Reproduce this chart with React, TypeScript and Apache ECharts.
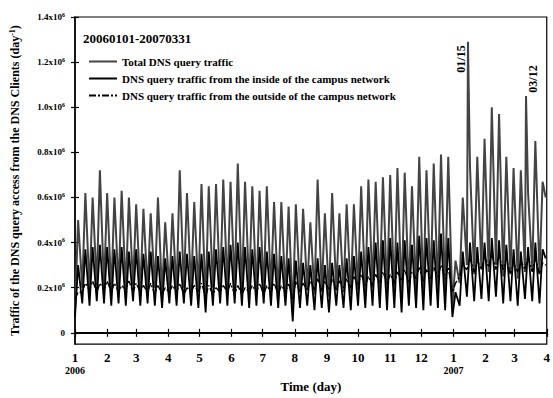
import React, { useEffect, useRef } from 'react';
import * as echarts from 'echarts';

// Time axis: days counted from 2006-01-01 (a Sunday)
const monthStarts = [0, 31, 59, 90, 120, 151, 181, 212, 243, 273, 304, 334, 365, 396, 424, 455];
const monthLabels = ['1', '2', '3', '4', '5', '6', '7', '8', '9', '10', '11', '12', '1', '2', '3', '4'];
const yearLabels: Record<number, string> = { 0: '2006', 12: '2007' };
const yTicks = [0, 0.2, 0.4, 0.6, 0.8, 1.0, 1.2, 1.4];

// Weekly readings (units of 10^6 per day): weekday peak (Wed) and weekend trough (Sun), 65 weeks
const totalHigh = [0.50, 0.62, 0.60, 0.72, 0.62, 0.60, 0.63, 0.60, 0.57, 0.55, 0.53, 0.60, 0.49, 0.53, 0.72, 0.62, 0.58, 0.66, 0.65, 0.66, 0.68, 0.67, 0.75, 0.67, 0.65, 0.63, 0.65, 0.58, 0.58, 0.56, 0.57, 0.55, 0.49, 0.68, 0.53, 0.62, 0.53, 0.57, 0.57, 0.65, 0.68, 0.67, 0.69, 0.70, 0.73, 0.71, 0.65, 0.78, 0.72, 0.75, 0.79, 0.78, 0.32, 0.60, 0.73, 0.78, 0.86, 1.00, 0.97, 0.78, 0.73, 0.72, 0.62, 0.85, 0.67];
const totalLow = [0.10, 0.20, 0.19, 0.21, 0.20, 0.18, 0.20, 0.19, 0.21, 0.18, 0.19, 0.20, 0.17, 0.19, 0.18, 0.20, 0.19, 0.18, 0.14, 0.20, 0.18, 0.19, 0.20, 0.18, 0.19, 0.17, 0.18, 0.19, 0.16, 0.17, 0.09, 0.18, 0.19, 0.17, 0.18, 0.16, 0.19, 0.18, 0.17, 0.19, 0.18, 0.20, 0.19, 0.18, 0.17, 0.16, 0.18, 0.19, 0.17, 0.20, 0.19, 0.18, 0.12, 0.22, 0.30, 0.26, 0.28, 0.27, 0.30, 0.25, 0.26, 0.24, 0.27, 0.28, 0.26];
const insideHigh = [0.30, 0.37, 0.38, 0.39, 0.38, 0.37, 0.38, 0.36, 0.37, 0.35, 0.36, 0.34, 0.33, 0.34, 0.36, 0.35, 0.34, 0.35, 0.36, 0.37, 0.38, 0.39, 0.40, 0.38, 0.37, 0.38, 0.36, 0.35, 0.34, 0.33, 0.32, 0.31, 0.30, 0.33, 0.30, 0.31, 0.30, 0.33, 0.34, 0.36, 0.38, 0.40, 0.41, 0.42, 0.40, 0.41, 0.39, 0.43, 0.42, 0.41, 0.44, 0.42, 0.18, 0.36, 0.40, 0.38, 0.40, 0.42, 0.41, 0.39, 0.37, 0.36, 0.38, 0.40, 0.37];
const insideLow = [0.07, 0.13, 0.12, 0.14, 0.13, 0.12, 0.13, 0.12, 0.14, 0.12, 0.13, 0.12, 0.11, 0.13, 0.12, 0.13, 0.12, 0.11, 0.09, 0.12, 0.13, 0.12, 0.13, 0.12, 0.11, 0.12, 0.13, 0.12, 0.11, 0.12, 0.05, 0.11, 0.12, 0.10, 0.11, 0.09, 0.12, 0.11, 0.10, 0.12, 0.11, 0.12, 0.11, 0.10, 0.11, 0.09, 0.12, 0.11, 0.10, 0.12, 0.11, 0.10, 0.07, 0.12, 0.16, 0.14, 0.15, 0.14, 0.16, 0.13, 0.14, 0.12, 0.15, 0.14, 0.13];
const outsideHigh = [0.18, 0.22, 0.23, 0.22, 0.23, 0.22, 0.21, 0.23, 0.22, 0.21, 0.22, 0.21, 0.20, 0.21, 0.22, 0.20, 0.21, 0.22, 0.21, 0.20, 0.21, 0.22, 0.21, 0.20, 0.21, 0.22, 0.21, 0.22, 0.21, 0.22, 0.23, 0.22, 0.23, 0.24, 0.23, 0.24, 0.23, 0.24, 0.25, 0.26, 0.25, 0.26, 0.27, 0.26, 0.27, 0.28, 0.27, 0.29, 0.28, 0.29, 0.30, 0.29, 0.22, 0.30, 0.33, 0.32, 0.34, 0.35, 0.34, 0.33, 0.31, 0.32, 0.34, 0.33, 0.31];
const outsideLow = [0.15, 0.18, 0.19, 0.18, 0.19, 0.18, 0.18, 0.19, 0.18, 0.18, 0.18, 0.17, 0.17, 0.18, 0.18, 0.17, 0.18, 0.18, 0.16, 0.17, 0.18, 0.18, 0.17, 0.17, 0.18, 0.18, 0.17, 0.18, 0.17, 0.18, 0.15, 0.18, 0.19, 0.19, 0.19, 0.19, 0.19, 0.20, 0.20, 0.21, 0.21, 0.21, 0.22, 0.22, 0.22, 0.23, 0.22, 0.24, 0.23, 0.24, 0.25, 0.24, 0.18, 0.25, 0.28, 0.27, 0.28, 0.29, 0.28, 0.28, 0.26, 0.27, 0.28, 0.27, 0.26];

// Single-day spikes of the total traffic (2007-01-15, 2007-03-12)
const spikeDays = [379, 435];
const spikeValues = [1.29, 1.05];
// Last day (2007-03-31)
const lastDay = 454;
const totalEnd = 0.60;
const insideEnd = 0.33;
const outsideEnd = 0.30;

function build(highs: number[], lows: number[], endVal: number, extraDays: number[] = [], extraVals: number[] = []) {
  const pts: [number, number][] = [];
  for (let i = 0; i < highs.length; i++) {
    pts.push([7 * i, lows[i]]);
    pts.push([7 * i + 3, highs[i]]);
  }
  extraDays.forEach((d, k) => pts.push([d, extraVals[k]]));
  pts.push([lastDay, endVal]);
  pts.sort((a, b) => a[0] - b[0]);
  return pts;
}

const FONT = '"Liberation Serif", "Times New Roman", serif';

export default function App() {
  const ref = useRef<HTMLDivElement>(null);
  useEffect(() => {
    const chart = echarts.init(ref.current!, null, { renderer: 'svg' });
    const xCommon = {
      type: 'value' as const,
      min: 0,
      max: 455,
      splitLine: { show: false },
    };
    const yCommon = {
      type: 'value' as const,
      min: -0.05,
      max: 1.4,
      splitLine: { show: false },
    };
    chart.setOption({
      animation: false,
      backgroundColor: '#fff',
      textStyle: { fontFamily: FONT, color: '#000' },
      grid: { left: 75, right: 3, top: 17, bottom: 43, show: true, borderColor: '#000', borderWidth: 1.2, containLabel: false },
      legend: {
        orient: 'vertical',
        left: 88,
        top: 56,
        padding: 0,
        itemWidth: 28,
        itemHeight: 8,
        itemGap: 6,
        itemStyle: { opacity: 0 },
        textStyle: { fontFamily: FONT, fontWeight: 'bold', fontSize: 11, color: '#000' },
        data: [
          'Total DNS query traffic',
          'DNS query traffic from the inside of the campus network',
          'DNS query traffic from the outside of the campus network',
        ],
      },
      xAxis: [
        {
          ...xCommon,
          position: 'bottom',
          name: 'Time (day)',
          nameLocation: 'middle',
          nameGap: 30,
          nameTextStyle: { fontFamily: FONT, fontWeight: 'bold', fontSize: 13, color: '#000' },
          axisLine: { lineStyle: { color: '#000', width: 1.8 } },
          axisTick: { inside: true, length: 4, customValues: monthStarts, lineStyle: { color: '#000', width: 1.2 } },
          axisLabel: {
            customValues: monthStarts,
            showMinLabel: true,
            showMaxLabel: true,
            margin: 6,
            formatter: (v: number) => {
              const idx = monthStarts.indexOf(Math.round(v));
              if (idx < 0) return '';
              const y = yearLabels[idx];
              return y ? `{m|${monthLabels[idx]}}\n{y|${y}}` : `{m|${monthLabels[idx]}}`;
            },
            rich: {
              m: { fontFamily: FONT, fontWeight: 'bold', fontSize: 13, color: '#000', lineHeight: 14 },
              y: { fontFamily: FONT, fontWeight: 'bold', fontSize: 10, color: '#000', lineHeight: 12 },
            },
          },
        },
        {
          ...xCommon,
          position: 'top',
          axisLine: { show: false },
          axisTick: { inside: true, length: 4, customValues: monthStarts, lineStyle: { color: '#000', width: 1.2 } },
          axisLabel: { show: false },
        },
      ],
      yAxis: [
        {
          ...yCommon,
          position: 'left',
          name: '{a|Traffic of the DNS query access from the DNS Clients (day}{s|-1}{a|)}',
          nameLocation: 'middle',
          nameRotate: 90,
          nameGap: 53,
          nameTextStyle: {
            rich: {
              a: { fontFamily: FONT, fontWeight: 'bold', fontSize: 12, color: '#000' },
              s: { fontFamily: FONT, fontWeight: 'bold', fontSize: 8, color: '#000', padding: [0, 0, 6, 0] },
            },
          },
          axisLine: { lineStyle: { color: '#000', width: 1.5 } },
          axisTick: { inside: true, length: 4, customValues: yTicks, lineStyle: { color: '#000', width: 1.2 } },
          axisLabel: {
            customValues: yTicks,
            margin: 10,
            formatter: (v: number) => (Math.abs(v) < 1e-9 ? '{b|0}' : `{b|${v.toFixed(1)}x10}{s|6}`),
            rich: {
              b: { fontFamily: FONT, fontWeight: 'bold', fontSize: 9, color: '#000' },
              s: { fontFamily: FONT, fontWeight: 'bold', fontSize: 6, color: '#000', padding: [0, 0, 5, 0] },
            },
          },
        },
        {
          ...yCommon,
          position: 'right',
          axisLine: { show: false },
          axisTick: { inside: true, length: 4, customValues: yTicks, lineStyle: { color: '#000', width: 1.2 } },
          axisLabel: { show: false },
        },
      ],
      graphic: [
        {
          type: 'text',
          left: 83,
          top: 32,
          style: { text: '20060101-20070331', font: `bold 13px ${FONT}`, fill: '#000' },
        },
        {
          type: 'text',
          x: 461,
          y: 59,
          rotation: Math.PI / 2,
          style: { text: '01/15', font: `bold 12px ${FONT}`, fill: '#000', align: 'center', verticalAlign: 'middle' },
        },
        {
          type: 'text',
          x: 533,
          y: 79,
          rotation: Math.PI / 2,
          style: { text: '03/12', font: `bold 12px ${FONT}`, fill: '#000', align: 'center', verticalAlign: 'middle' },
        },
      ],
      series: [
        {
          name: 'Total DNS query traffic',
          type: 'line',
          symbol: 'none',
          xAxisIndex: 0,
          yAxisIndex: 0,
          data: build(totalHigh, totalLow, totalEnd, spikeDays, spikeValues),
          lineStyle: { color: '#444', width: 2 },
          itemStyle: { color: '#444' },
          z: 2,
        },
        {
          name: 'DNS query traffic from the inside of the campus network',
          type: 'line',
          symbol: 'none',
          xAxisIndex: 0,
          yAxisIndex: 0,
          data: build(insideHigh, insideLow, insideEnd),
          lineStyle: { color: '#000', width: 1.8 },
          itemStyle: { color: '#000' },
          z: 3,
        },
        {
          name: 'DNS query traffic from the outside of the campus network',
          type: 'line',
          symbol: 'none',
          xAxisIndex: 0,
          yAxisIndex: 0,
          data: build(outsideHigh, outsideLow, outsideEnd),
          lineStyle: { color: '#000', width: 1.4, type: [7, 2, 2, 2] },
          itemStyle: { color: '#000' },
          z: 4,
        },
      ],
    });
    return () => chart.dispose();
  }, []);
  return (
    <div
      ref={ref}
      style={{ position: 'fixed', left: 0, top: 0, width: 553, height: 398, background: '#fff' }}
    />
  );
}
